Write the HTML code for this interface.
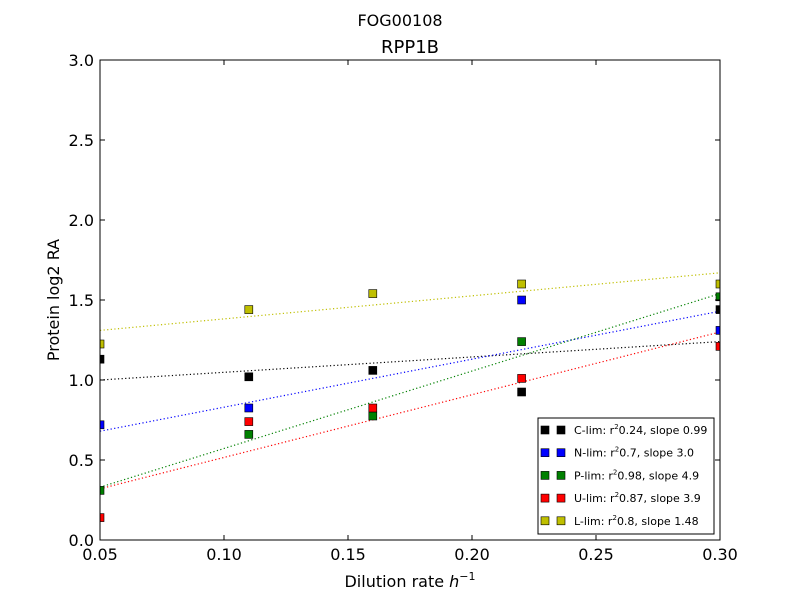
<!DOCTYPE html>
<html><head><meta charset="utf-8"><style>
body{margin:0;background:#fff;font-family:"Liberation Sans","DejaVu Sans",sans-serif}
svg text{font-family:"DejaVu Sans","Liberation Sans",sans-serif}
</style></head><body>
<svg id="c" width="800" height="600" xmlns="http://www.w3.org/2000/svg">
<defs><clipPath id="pc"><rect x="100" y="60" width="620" height="480"/></clipPath></defs>
<g id="plot" clip-path="url(#pc)"></g>
</svg>
<script>
const xVals=[0.05,0.11,0.16,0.22,0.30];
const cVals=[1.13,1.02,1.06,0.925,1.44];
const nVals=[0.72,0.825,null,1.5,1.31];
const pVals=[0.31,0.66,0.775,1.24,1.52];
const uVals=[0.14,0.74,0.825,1.01,1.21];
const lVals=[1.225,1.44,1.54,1.6,1.6];
const fitStart=[1.0,0.68,0.33,0.32,1.31];
const fitEnd=[1.24,1.43,1.54,1.30,1.67];
const seriesNames=["C-lim","N-lim","P-lim","U-lim","L-lim"];
const seriesR2=["0.24","0.7","0.98","0.87","0.8"];
const seriesSlope=["0.99","3.0","4.9","3.9","1.48"];
const xTicks=["0.05","0.10","0.15","0.20","0.25","0.30"];
const yTicks=["0.0","0.5","1.0","1.5","2.0","2.5","3.0"];
const colors=["#000000","#0000ff","#008000","#ff0000","#bfbf00"];
const allVals=[cVals,nVals,pVals,uVals,lVals];
const L=100,R=720,T=60,B=540;
const xs=v=>L+(v-0.05)/0.25*(R-L);
const ys=v=>B-v/3*(B-T);
const svg=document.getElementById('c');
const plot=document.getElementById('plot');


const NS='http://www.w3.org/2000/svg';
function mk(t,a,txt,parent){const e=document.createElementNS(NS,t);for(const k in a)e.setAttribute(k,a[k]);if(txt!=null)e.textContent=txt;(parent||svg).appendChild(e);return e;}
let e;
e=mk('text',{x:400,y:26,'text-anchor':'middle','font-size':16},'FOG00108');


e=mk('text',{x:410,y:53,'text-anchor':'middle','font-size':18},'RPP1B');


for(let i=0;i<5;i++){
 e=mk('line',{x1:xs(0.05),y1:ys(fitStart[i]),x2:xs(0.30),y2:ys(fitEnd[i]),stroke:colors[i],'stroke-width':1.2,'stroke-dasharray':'1.2,2.4'},null,plot);
 
 
}
for(let i=0;i<5;i++){
 for(let j=0;j<xVals.length;j++){
  const v=allVals[i][j]; if(v==null)continue;
  e=mk('rect',{x:xs(xVals[j])-4,y:ys(v)-4,width:8,height:8,fill:colors[i],stroke:'#000','stroke-width':0.6},null,plot);
  
  
 }
}
e=mk('rect',{x:L,y:T,width:R-L,height:B-T,fill:'none',stroke:'#000','stroke-width':1});


xTicks.forEach(t=>{const x=xs(+t);
 mk('line',{x1:x,y1:B,x2:x,y2:B-5,stroke:'#000'});mk('line',{x1:x,y1:T,x2:x,y2:T+5,stroke:'#000'});
 e=mk('text',{x:x,y:B+20,'text-anchor':'middle','font-size':16},t);
 
 
});
yTicks.forEach(t=>{const y=ys(+t);
 mk('line',{x1:L,y1:y,x2:L+5,y2:y,stroke:'#000'});mk('line',{x1:R,y1:y,x2:R-5,y2:y,stroke:'#000'});
 e=mk('text',{x:L-6,y:y+6,'text-anchor':'end','font-size':16},t);
 
 
});
e=mk('text',{x:410,y:587,'text-anchor':'middle','font-size':16});
e.innerHTML='Dilution rate <tspan font-style="italic">h</tspan><tspan font-size="11" dy="-7">−1</tspan>';


e=mk('text',{x:59,y:300,'text-anchor':'middle','font-size':16,transform:'rotate(-90 59 300)'},'Protein log2 RA');


e=mk('rect',{x:538,y:418,width:176,height:116,fill:'#fff',stroke:'#000','stroke-width':1});


for(let i=0;i<5;i++){
 const y=430+i*22.7;
 mk('rect',{x:541,y:y-4,width:8,height:8,fill:colors[i],stroke:'#000','stroke-width':0.6});
 mk('rect',{x:557,y:y-4,width:8,height:8,fill:colors[i],stroke:'#000','stroke-width':0.6});
 e=mk('text',{x:574,y:y+4,'font-size':11});
 e.innerHTML=seriesNames[i]+': r<tspan font-size="7" dy="-5">2</tspan><tspan dy="5">'+seriesR2[i]+', slope '+seriesSlope[i]+'</tspan>';
 
 
}
</script>
</body></html>
